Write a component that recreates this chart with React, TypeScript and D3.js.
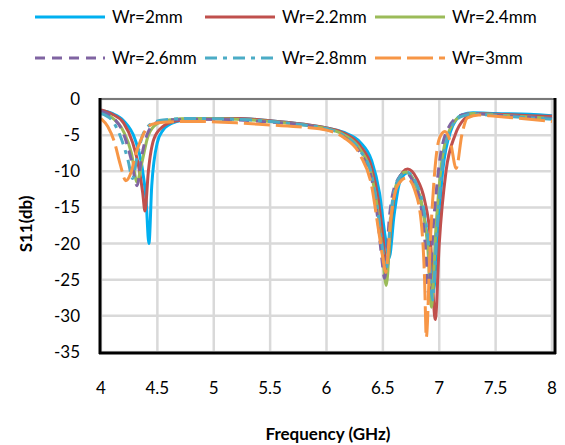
import React from "react";
import * as d3 from "d3";

// S11 (dB) vs frequency (GHz), [f, s11] pairs
const wr2 = [
  [4.0, -1.6], [4.1, -2.0], [4.2, -3.0], [4.3, -5.5], [4.36, -9], [4.4, -14], [4.425, -20],
  [4.45, -12], [4.5, -6], [4.55, -4.3], [4.6, -3.6], [4.7, -3.0], [4.9, -2.7], [5.2, -2.7],
  [5.5, -3.0], [5.8, -3.5], [6.0, -4.0], [6.15, -4.6], [6.3, -6], [6.4, -8.5], [6.47, -13],
  [6.52, -19], [6.555, -22], [6.6, -16], [6.65, -11.5], [6.72, -10.2], [6.78, -11.5],
  [6.85, -15], [6.92, -22], [6.95, -26.5], [6.98, -20], [7.03, -10], [7.1, -4.5], [7.2, -2.2],
  [7.3, -1.9], [7.5, -2.0], [7.8, -2.1], [8.0, -2.3],
];
const wr22 = [
  [4.0, -1.5], [4.1, -2.1], [4.2, -3.3], [4.28, -6], [4.33, -9], [4.37, -13], [4.39, -15.5],
  [4.42, -10], [4.47, -5.5], [4.55, -3.8], [4.65, -3.1], [4.8, -2.8], [5.2, -2.7], [5.5, -3.0],
  [5.8, -3.5], [6.0, -4.0], [6.15, -4.7], [6.3, -6.5], [6.4, -9.5], [6.46, -14], [6.5, -19],
  [6.535, -23.5], [6.58, -16], [6.63, -11.5], [6.72, -9.7], [6.8, -11], [6.87, -14],
  [6.92, -19], [6.965, -30.5], [7.0, -20], [7.06, -10], [7.14, -5], [7.22, -2.8], [7.32, -2.0],
  [7.5, -2.1], [7.8, -2.3], [8.0, -2.4],
];
const wr24 = [
  [4.0, -1.8], [4.1, -2.6], [4.2, -4.5], [4.27, -7.5], [4.32, -11.5], [4.36, -9], [4.42, -5],
  [4.5, -3.4], [4.6, -2.9], [4.8, -2.7], [5.2, -2.8], [5.5, -3.1], [5.8, -3.6], [6.0, -4.1],
  [6.15, -4.9], [6.3, -7], [6.4, -10.5], [6.46, -16], [6.5, -22], [6.53, -25.8], [6.57, -17],
  [6.62, -11.8], [6.7, -10.1], [6.78, -11.5], [6.85, -15], [6.9, -21], [6.93, -28.8],
  [6.97, -18], [7.02, -9], [7.1, -4], [7.2, -2.3], [7.3, -2.0], [7.5, -2.2], [7.8, -2.5],
  [8.0, -2.7],
];
const wr26 = [
  [4.0, -1.7], [4.1, -2.5], [4.2, -4.8], [4.27, -8.5], [4.32, -12], [4.36, -8], [4.42, -4.5],
  [4.5, -3.2], [4.6, -2.9], [4.8, -2.8], [5.2, -2.9], [5.5, -3.2], [5.8, -3.6], [6.0, -4.2],
  [6.15, -5.2], [6.3, -7.5], [6.4, -11], [6.45, -16], [6.49, -22], [6.515, -24.8],
  [6.56, -16], [6.62, -11.5], [6.7, -10.2], [6.77, -11.5], [6.84, -15], [6.88, -21],
  [6.905, -26.9], [6.95, -17], [7.0, -9], [7.08, -4], [7.2, -2.2], [7.3, -2.0], [7.5, -2.2],
  [7.8, -2.5], [8.0, -2.7],
];
const wr28 = [
  [4.0, -2.0], [4.1, -3.0], [4.18, -5.5], [4.24, -8.5], [4.28, -11], [4.32, -8], [4.37, -5],
  [4.45, -3.4], [4.55, -2.9], [4.8, -2.7], [5.2, -2.8], [5.5, -3.1], [5.8, -3.6], [6.0, -4.1],
  [6.15, -5], [6.3, -7.2], [6.4, -10.5], [6.46, -16], [6.5, -21], [6.53, -23.5], [6.57, -16],
  [6.63, -11.3], [6.71, -10.1], [6.79, -11.5], [6.86, -15], [6.91, -21], [6.94, -27.8],
  [6.98, -18], [7.03, -9], [7.1, -4.2], [7.2, -2.4], [7.3, -2.1], [7.5, -2.3], [7.8, -2.6],
  [8.0, -2.8],
];
const wr3 = [
  [4.0, -2.7], [4.06, -3.8], [4.12, -6], [4.17, -9], [4.22, -11.3], [4.27, -10], [4.31, -7.5],
  [4.35, -5.8], [4.4, -4.2], [4.45, -3.5], [4.55, -3.2], [4.8, -3.1], [5.2, -3.3], [5.5, -3.6],
  [5.8, -3.9], [6.0, -4.3], [6.15, -5.3], [6.3, -7.8], [6.4, -12], [6.46, -18], [6.5, -22],
  [6.525, -24], [6.57, -16.5], [6.63, -12], [6.71, -10.9], [6.78, -12.5], [6.84, -17],
  [6.87, -25], [6.885, -33], [6.92, -20], [6.96, -10], [7.0, -5.5], [7.05, -4.5], [7.1, -6],
  [7.15, -9.6], [7.2, -5], [7.25, -2.6], [7.35, -2.2], [7.5, -2.4], [7.8, -2.8], [8.0, -3.1],
];

const seriesNames = ["Wr=2mm", "Wr=2.2mm", "Wr=2.4mm", "Wr=2.6mm", "Wr=2.8mm", "Wr=3mm"];
const seriesData = [wr2, wr22, wr24, wr26, wr28, wr3];
const colors = ["#00b0f0", "#c0504d", "#9bbb59", "#8064a2", "#4bacc6", "#f79646"];
const dashes = ["", "", "", "10,7", "12,6,4,6", "26,6"];

const xTicks = [4, 4.5, 5, 5.5, 6, 6.5, 7, 7.5, 8];
const yTicks = [0, -5, -10, -15, -20, -25, -30, -35];

const font = "Lato, 'Open Sans', sans-serif";

export default function App() {
  const x = d3.scaleLinear().domain([4, 8]).range([101, 552]);
  const y = d3.scaleLinear().domain([0, -35]).range([99, 352]);

  const line = d3
    .line<number[]>()
    .x((d) => x(d[0]))
    .y((d) => y(d[1]))
    .curve(d3.curveMonotoneX);

  const legendX = [35, 205, 375];
  const legendY = [17, 58];

  return (
    <svg width={565} height={445} style={{ position: "absolute", left: 0, top: 0 }}>
      <rect width={565} height={445} fill="#fff" />

      {/* gridlines */}
      {xTicks.map((t) => (
        <line key={"gx" + t} x1={x(t)} x2={x(t)} y1={y(0)} y2={y(-35)} stroke="#d9d9d9" strokeWidth={2.5} />
      ))}
      {yTicks.map((t) => (
        <line key={"gy" + t} x1={x(4)} x2={x(8)} y1={y(t)} y2={y(t)} stroke="#d9d9d9" strokeWidth={2.5} />
      ))}

      {/* series */}
      {seriesData.map((d, i) => (
        <path
          key={i}
          d={line(d) || ""}
          fill="none"
          stroke={colors[i]}
          strokeWidth={3}
          strokeDasharray={dashes[i] || undefined}
          strokeLinejoin="round"
        />
      ))}

      {/* frame */}
      <line x1={100} x2={556} y1={99} y2={99} stroke="#595959" strokeWidth={1.5} />
      <line x1={100} x2={100} y1={98} y2={354} stroke="#000" strokeWidth={3} />
      <line x1={99} x2={556} y1={353} y2={353} stroke="#000" strokeWidth={3} />
      <line x1={555} x2={555} y1={98} y2={354} stroke="#000" strokeWidth={3} />

      {/* y tick labels */}
      {yTicks.map((t) => (
        <text key={"ty" + t} x={80} y={y(t)} dy="0.35em" textAnchor="end" fontFamily={font} fontSize={17} fill="#000">
          {t}
        </text>
      ))}
      {/* x tick labels */}
      {xTicks.map((t) => (
        <text key={"tx" + t} x={x(t)} y={388} dy="0.35em" textAnchor="middle" fontFamily={font} fontSize={17} fill="#000">
          {t}
        </text>
      ))}

      <text x={328} y={434} dy="0.35em" textAnchor="middle" fontFamily={font} fontSize={17} fontWeight="bold">
        Frequency (GHz)
      </text>
      <text
        transform="translate(26,224) rotate(-90)"
        dy="0.35em"
        textAnchor="middle"
        fontFamily={font}
        fontSize={17}
        fontWeight="bold"
      >
        S11(db)
      </text>

      {/* legend */}
      {seriesNames.map((name, i) => {
        const lx = legendX[i % 3];
        const ly = legendY[Math.floor(i / 3)];
        return (
          <g key={name}>
            <line
              x1={lx}
              x2={lx + 70}
              y1={ly}
              y2={ly}
              stroke={colors[i]}
              strokeWidth={3}
              strokeDasharray={dashes[i] || undefined}
            />
            <text x={lx + 77} y={ly} dy="0.35em" fontFamily={font} fontSize={17} fill="#000">
              {name}
            </text>
          </g>
        );
      })}
    </svg>
  );
}
